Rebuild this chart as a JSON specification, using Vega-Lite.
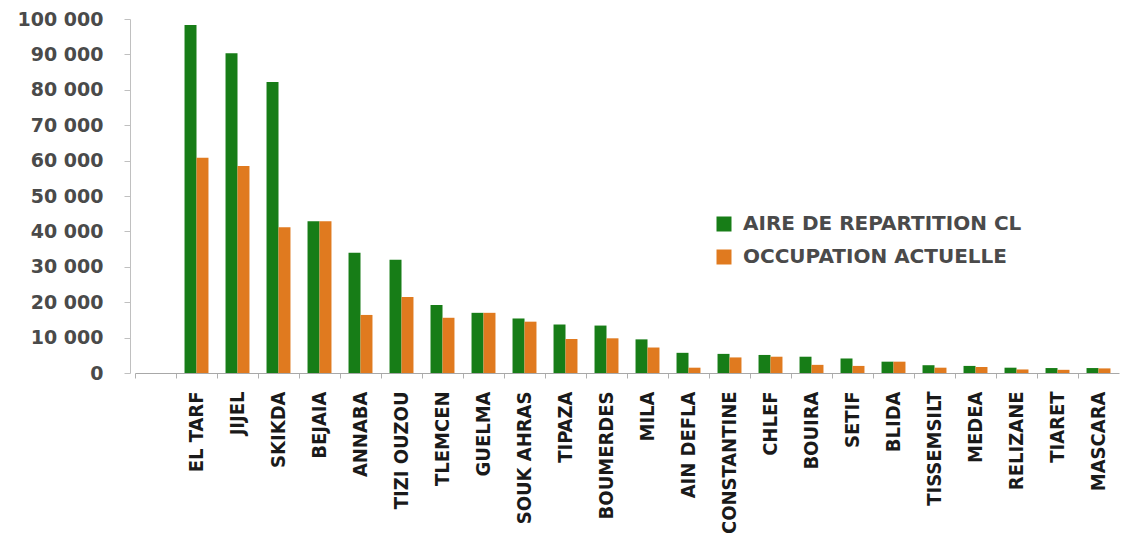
{
  "$schema": "https://vega.github.io/schema/vega-lite/v6.json",
  "autosize": "none",
  "width": 984,
  "height": 354,
  "padding": {"left": 135, "top": 19, "right": 7, "bottom": 162},
  "background": "white",
  "data": {
    "values": [
      {"wilaya": "EL TARF", "serie": "AIRE DE REPARTITION CL", "valeur": 98300},
      {"wilaya": "EL TARF", "serie": "OCCUPATION ACTUELLE", "valeur": 60800},
      {"wilaya": "JIJEL", "serie": "AIRE DE REPARTITION CL", "valeur": 90300},
      {"wilaya": "JIJEL", "serie": "OCCUPATION ACTUELLE", "valeur": 58500},
      {"wilaya": "SKIKDA", "serie": "AIRE DE REPARTITION CL", "valeur": 82200},
      {"wilaya": "SKIKDA", "serie": "OCCUPATION ACTUELLE", "valeur": 41200},
      {"wilaya": "BEJAIA", "serie": "AIRE DE REPARTITION CL", "valeur": 42900},
      {"wilaya": "BEJAIA", "serie": "OCCUPATION ACTUELLE", "valeur": 42900},
      {"wilaya": "ANNABA", "serie": "AIRE DE REPARTITION CL", "valeur": 34000},
      {"wilaya": "ANNABA", "serie": "OCCUPATION ACTUELLE", "valeur": 16400},
      {"wilaya": "TIZI OUZOU", "serie": "AIRE DE REPARTITION CL", "valeur": 32000},
      {"wilaya": "TIZI OUZOU", "serie": "OCCUPATION ACTUELLE", "valeur": 21500},
      {"wilaya": "TLEMCEN", "serie": "AIRE DE REPARTITION CL", "valeur": 19200},
      {"wilaya": "TLEMCEN", "serie": "OCCUPATION ACTUELLE", "valeur": 15600},
      {"wilaya": "GUELMA", "serie": "AIRE DE REPARTITION CL", "valeur": 17000},
      {"wilaya": "GUELMA", "serie": "OCCUPATION ACTUELLE", "valeur": 17000},
      {"wilaya": "SOUK AHRAS", "serie": "AIRE DE REPARTITION CL", "valeur": 15400},
      {"wilaya": "SOUK AHRAS", "serie": "OCCUPATION ACTUELLE", "valeur": 14500},
      {"wilaya": "TIPAZA", "serie": "AIRE DE REPARTITION CL", "valeur": 13700},
      {"wilaya": "TIPAZA", "serie": "OCCUPATION ACTUELLE", "valeur": 9600},
      {"wilaya": "BOUMERDES", "serie": "AIRE DE REPARTITION CL", "valeur": 13400},
      {"wilaya": "BOUMERDES", "serie": "OCCUPATION ACTUELLE", "valeur": 9800},
      {"wilaya": "MILA", "serie": "AIRE DE REPARTITION CL", "valeur": 9500},
      {"wilaya": "MILA", "serie": "OCCUPATION ACTUELLE", "valeur": 7200},
      {"wilaya": "AIN DEFLA", "serie": "AIRE DE REPARTITION CL", "valeur": 5700},
      {"wilaya": "AIN DEFLA", "serie": "OCCUPATION ACTUELLE", "valeur": 1500},
      {"wilaya": "CONSTANTINE", "serie": "AIRE DE REPARTITION CL", "valeur": 5400},
      {"wilaya": "CONSTANTINE", "serie": "OCCUPATION ACTUELLE", "valeur": 4400},
      {"wilaya": "CHLEF", "serie": "AIRE DE REPARTITION CL", "valeur": 5100},
      {"wilaya": "CHLEF", "serie": "OCCUPATION ACTUELLE", "valeur": 4600},
      {"wilaya": "BOUIRA", "serie": "AIRE DE REPARTITION CL", "valeur": 4600},
      {"wilaya": "BOUIRA", "serie": "OCCUPATION ACTUELLE", "valeur": 2300},
      {"wilaya": "SETIF", "serie": "AIRE DE REPARTITION CL", "valeur": 4100},
      {"wilaya": "SETIF", "serie": "OCCUPATION ACTUELLE", "valeur": 2000},
      {"wilaya": "BLIDA", "serie": "AIRE DE REPARTITION CL", "valeur": 3200},
      {"wilaya": "BLIDA", "serie": "OCCUPATION ACTUELLE", "valeur": 3200},
      {"wilaya": "TISSEMSILT", "serie": "AIRE DE REPARTITION CL", "valeur": 2200},
      {"wilaya": "TISSEMSILT", "serie": "OCCUPATION ACTUELLE", "valeur": 1500},
      {"wilaya": "MEDEA", "serie": "AIRE DE REPARTITION CL", "valeur": 2000},
      {"wilaya": "MEDEA", "serie": "OCCUPATION ACTUELLE", "valeur": 1700},
      {"wilaya": "RELIZANE", "serie": "AIRE DE REPARTITION CL", "valeur": 1500},
      {"wilaya": "RELIZANE", "serie": "OCCUPATION ACTUELLE", "valeur": 1000},
      {"wilaya": "TIARET", "serie": "AIRE DE REPARTITION CL", "valeur": 1400},
      {"wilaya": "TIARET", "serie": "OCCUPATION ACTUELLE", "valeur": 900},
      {"wilaya": "MASCARA", "serie": "AIRE DE REPARTITION CL", "valeur": 1400},
      {"wilaya": "MASCARA", "serie": "OCCUPATION ACTUELLE", "valeur": 1300}
    ]
  },
  "mark": {"type": "bar"},
  "encoding": {
    "x": {
      "field": "wilaya",
      "type": "nominal",
      "sort": null,
      "scale": {
        "domain": ["", "EL TARF", "JIJEL", "SKIKDA", "BEJAIA", "ANNABA", "TIZI OUZOU", "TLEMCEN", "GUELMA", "SOUK AHRAS", "TIPAZA", "BOUMERDES", "MILA", "AIN DEFLA", "CONSTANTINE", "CHLEF", "BOUIRA", "SETIF", "BLIDA", "TISSEMSILT", "MEDEA", "RELIZANE", "TIARET", "MASCARA"],
        "paddingInner": 0.416,
        "paddingOuter": 0.208
      },
      "axis": {
        "title": null,
        "labelAngle": -90,
        "labelAlign": "right",
        "labelBaseline": "middle",
        "labelFont": "DejaVu Sans Condensed",
        "labelFontWeight": "bold",
        "labelFontSize": 20,
        "labelColor": "#1a1a1a",
        "labelPadding": 13,
        "labelLimit": 200,
        "tickSize": 5,
        "tickColor": "#b0b0b0",
        "domainColor": "#a8a8a8",
        "bandPosition": -0.35
      }
    },
    "xOffset": {
      "field": "serie",
      "type": "nominal",
      "scale": {"paddingInner": 0, "paddingOuter": 0}
    },
    "y": {
      "field": "valeur",
      "type": "quantitative",
      "scale": {"domain": [0, 100000], "nice": false},
      "axis": {
        "title": null,
        "values": [0, 10000, 20000, 30000, 40000, 50000, 60000, 70000, 80000, 90000, 100000],
        "labelExpr": "replace(format(datum.value, ',d'), ',', ' ')",
        "labelFont": "DejaVu Sans",
        "labelFontWeight": "bold",
        "labelFontSize": 19,
        "labelColor": "#4a4a4a",
        "labelPadding": 21,
        "tickSize": 6,
        "tickColor": "#c0c0c0",
        "domainColor": "#c0c0c0",
        "grid": false,
        "offset": 5
      }
    },
    "color": {
      "field": "serie",
      "type": "nominal",
      "scale": {
        "domain": ["AIRE DE REPARTITION CL", "OCCUPATION ACTUELLE"],
        "range": ["#177d17", "#e07a1f"]
      },
      "legend": {
        "title": null,
        "orient": "none",
        "legendX": 579,
        "legendY": 195,
        "symbolType": "square",
        "symbolSize": 225,
        "symbolStrokeWidth": 0,
        "labelFont": "DejaVu Sans",
        "labelFontWeight": "bold",
        "labelFontSize": 20,
        "labelColor": "#4a4a4a",
        "labelLimit": 400,
        "rowPadding": 13,
        "labelOffset": 9
      }
    }
  },
  "config": {"view": {"stroke": null}}
}
